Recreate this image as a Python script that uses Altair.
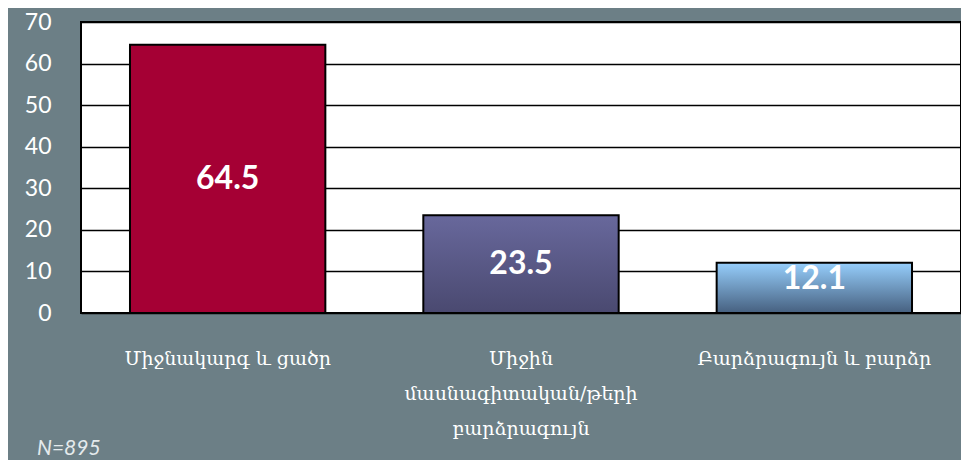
import altair as alt
import pandas as pd

categories = ["Միջնակարգ և ցածր", "Միջին|մասնագիտական/թերի|բարձրագույն", "Բարձրագույն և բարձր"]
values = [64.5, 23.5, 12.1]
y_ticks = [0, 10, 20, 30, 40, 50, 60, 70]
note = "N=895"

df = pd.DataFrame({"cat": categories, "value": values})
df["half"] = df["value"] / 2

fills = [
    "#a50034",
    alt.Gradient(gradient="linear", x1=0, y1=0, x2=0, y2=1,
                 stops=[alt.GradientStop(color="#68689c", offset=0),
                        alt.GradientStop(color="#4a4970", offset=1)]),
    alt.Gradient(gradient="linear", x1=0, y1=0, x2=0, y2=1,
                 stops=[alt.GradientStop(color="#96cefc", offset=0),
                        alt.GradientStop(color="#46607f", offset=1)]),
]
label_dy = [0, 0, -9]

x_enc = alt.X("cat:N", sort=categories,
              scale=alt.Scale(paddingInner=0.334, paddingOuter=0.167),
              axis=alt.Axis(title=None, labelAngle=0, labelColor="white",
                            labelFont="DejaVu Serif", labelFontSize=19,
                            labelLineHeight=35, labelPadding=36,
                            labelLimit=0, ticks=False, domain=False,
                            labelExpr="split(datum.label, '|')"))
y_enc = alt.Y("value:Q", scale=alt.Scale(domain=[0, 70], nice=False),
              axis=alt.Axis(title=None, values=y_ticks, labelColor="white",
                            labelFont="Lato", labelFontSize=23,
                            labelPadding=30, ticks=False, domain=False,
                            grid=True, gridColor="black", gridWidth=1.5,
                            gridOpacity=1))

base = alt.Chart(df)
layers = []
for i, cat in enumerate(categories):
    sub = base.transform_filter(alt.datum.cat == cat)
    layers.append(sub.mark_bar(color=fills[i], stroke="black", strokeWidth=2,
                               opacity=1).encode(x=x_enc, y=y_enc))
    layers.append(sub.mark_text(color="white", font="Lato", fontWeight="bold",
                                fontSize=32, baseline="middle", dy=label_dy[i]).encode(
        x=alt.X("cat:N", sort=categories),
        y=alt.Y("half:Q"),
        text=alt.Text("value:Q", format=".1f")))

chart = alt.layer(*layers).properties(
    width=880, height=291,
    background="#6c7f86",
    autosize=alt.AutoSizeParams(type="none"),
    padding={"left": 73, "top": 14, "right": 0, "bottom": 147},
    title=alt.TitleParams(note, orient="bottom", anchor="start", frame="group",
                          dx=-44, offset=0, font="Lato", fontSize=21,
                          fontStyle="italic", fontWeight="normal",
                          color="#e4eaec"),
).configure_view(stroke="black", strokeWidth=2, fill="white")

chart.save("out.html", embed_options={"renderer": "svg", "actions": False})
